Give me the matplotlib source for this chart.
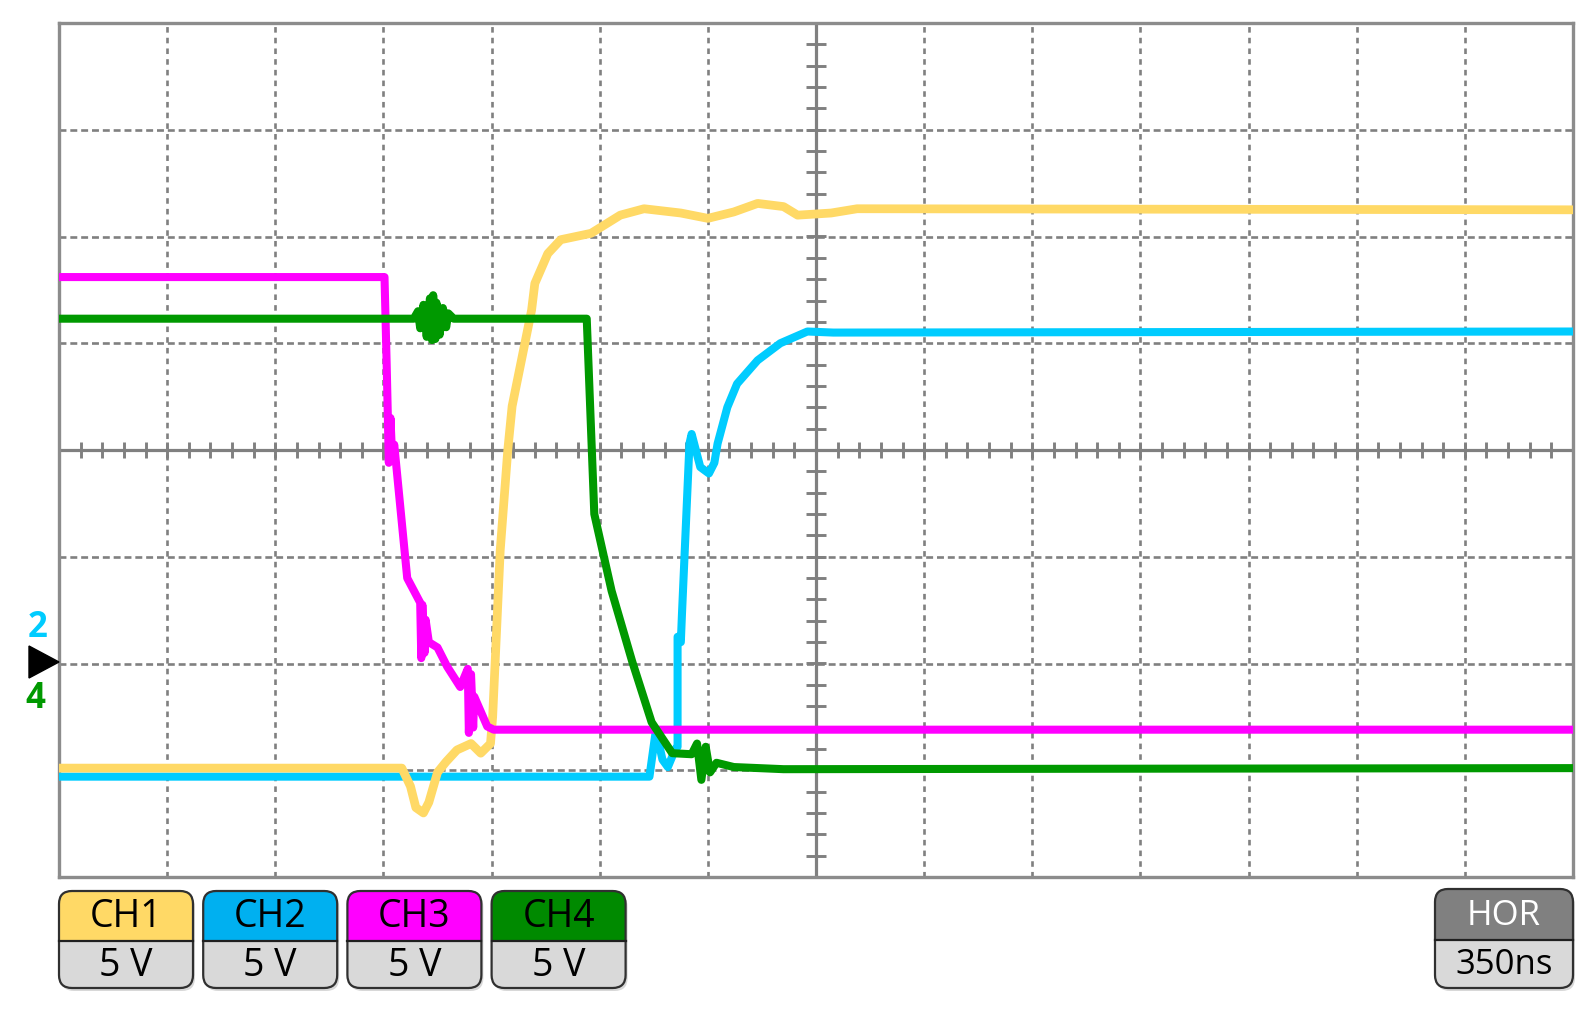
import matplotlib
matplotlib.use("Agg")
import matplotlib.pyplot as plt
import numpy as np
from matplotlib.patches import FancyBboxPatch, Rectangle, Polygon

plt.rcParams['lines.scale_dashes'] = False
plt.rcParams['font.family'] = ['Open Sans', 'DejaVu Sans']

# ---------------- data (screen divisions: x = time/div, y = volts/div) -------------
ch1_t = [-7.0, -3.83, -3.75, -3.70, -3.63, -3.58, -3.50, -3.42, -3.32, -3.19, -3.10,
         -3.01, -2.99, -2.92, -2.85, -2.81, -2.63, -2.60, -2.48, -2.36, -2.08, -1.81,
         -1.59, -1.25, -1.00, -0.76, -0.54, -0.30, -0.17, 0.14, 0.38, 7.0]
ch1_v = [-2.98, -2.98, -3.15, -3.35, -3.40, -3.30, -3.02, -2.92, -2.81, -2.75, -2.84,
         -2.75, -2.50, -0.94, 0.00, 0.41, 1.31, 1.56, 1.84, 1.97, 2.03, 2.20,
         2.26, 2.22, 2.17, 2.23, 2.31, 2.28, 2.20, 2.22, 2.26, 2.25]

ch2_t = [-7.0, -1.54, -1.48, -1.42, -1.37, -1.30, -1.28, -1.28, -1.25, -1.24, -1.17,
         -1.15, -1.07, -0.99, -0.94, -0.91, -0.82, -0.73, -0.54, -0.33, -0.08, 0.16, 7.0]
ch2_v = [-3.06, -3.06, -2.62, -2.90, -2.97, -2.80, -2.78, -1.75, -1.80, -1.55, 0.06,
         0.15, -0.16, -0.22, -0.12, 0.06, 0.40, 0.62, 0.84, 1.00, 1.11, 1.10, 1.11]

ch3_t = [-7.0, -3.99, -3.97, -3.96, -3.95, -3.935, -3.92, -3.90, -3.78, -3.66, -3.65,
         -3.64, -3.62, -3.61, -3.58, -3.50, -3.41, -3.29, -3.22, -3.21, -3.19, -3.17,
         -3.16, -3.04, -2.98, 7.0]
ch3_v = [1.62, 1.62, 0.80, 0.35, -0.12, 0.30, -0.05, 0.05, -1.20, -1.43, -1.95,
         -1.45, -1.90, -1.59, -1.80, -1.85, -2.03, -2.22, -2.05, -2.65, -2.10, -2.60,
         -2.31, -2.59, -2.62, -2.62]

ch4_t = [-7.0, -3.72, -3.68, -3.66, -3.63, -3.60, -3.57, -3.55, -3.54, -3.52, -3.51,
         -3.48, -3.45, -3.42, -3.40, -3.35, -2.12, -2.05, -1.89, -1.70, -1.52, -1.33,
         -1.15, -1.10, -1.06, -1.02, -0.98, -0.92, -0.76, -0.30, 7.0]
ch4_v = [1.23, 1.23, 1.30, 1.14, 1.36, 1.06, 1.42, 1.03, 1.45, 1.04, 1.38,
         1.08, 1.33, 1.15, 1.28, 1.23, 1.23, -0.60, -1.32, -1.98, -2.55, -2.84,
         -2.85, -2.75, -3.09, -2.78, -3.02, -2.93, -2.97, -2.99, -2.98]

channels = ['CH1', 'CH2', 'CH3', 'CH4']
scales = ['5 V', '5 V', '5 V', '5 V']
timebase = '350ns'

# ---------------- figure ----------------
W, H = 1596, 1017
fig = plt.figure(figsize=(W / 100, H / 100), dpi=100)
L, R, T, B = 59, 1573, 23, 877
ax = fig.add_axes([L / W, 1 - B / H, (R - L) / W, (B - T) / H])
ax.set_xlim(-7, 7)
ax.set_ylim(-4, 4)
ax.set_xticks([]); ax.set_yticks([])
for s in ax.spines.values():
    s.set_color('#8c8c8c'); s.set_linewidth(2.4)

grid_c = '#808080'
for x in range(-6, 7):
    if x == 0:
        continue
    ax.axvline(x, color=grid_c, lw=1.9, dashes=(4.0, 3.7), zorder=1)
for y in range(-3, 4):
    if y == 0:
        continue
    ax.axhline(y, color=grid_c, lw=1.9, dashes=(5.0, 2.8), zorder=1)
ax.axvline(0, color=grid_c, lw=2.3, zorder=1)
ax.axhline(0, color=grid_c, lw=2.3, zorder=1)
for x in np.arange(-7, 7.001, 0.2):
    ax.plot([x, x], [-0.075, 0.075], color=grid_c, lw=2.1, zorder=1, solid_capstyle='butt')
for y in np.arange(-4, 4.001, 0.2):
    ax.plot([-0.092, 0.092], [y, y], color=grid_c, lw=2.1, zorder=1, solid_capstyle='butt')

lw = 5.8
ax.plot(ch2_t, ch2_v, color='#00ccff', lw=lw, zorder=3, solid_joinstyle='round')
ax.plot(ch1_t, ch1_v, color='#ffd966', lw=lw + 0.5, zorder=4, solid_joinstyle='round')
ax.plot(ch3_t, ch3_v, color='#ff00ff', lw=lw, zorder=5, solid_joinstyle='round')
ax.plot(ch4_t, ch4_v, color='#009900', lw=lw, zorder=6, solid_joinstyle='round')

# ---------------- overlay (pixel coordinates) ----------------
ov = fig.add_axes([0, 0, 1, 1], facecolor='none')
ov.set_xlim(0, W); ov.set_ylim(H, 0); ov.axis('off')

# trigger / reference markers
ov.add_patch(Polygon([[29, 646], [59, 662], [29, 678]], closed=True, color='black'))
ov.text(38, 628, '2', color='#00ccff', fontsize=25, fontweight='bold', ha='center', va='center')
ov.text(35, 699, '4', color='#009900', fontsize=25, fontweight='bold', ha='center', va='center')


def badge(x0, y0, w, h, top_color, top_text, bot_text, top_tc='black', fs=27):
    mid = y0 + h * 0.52
    sh = FancyBboxPatch((x0 + 2, y0 + 3), w, h, boxstyle='round,pad=0,rounding_size=13',
                        fc='#bfbfbf', ec='none', alpha=0.6)
    ov.add_patch(sh)
    base = FancyBboxPatch((x0, y0), w, h, boxstyle='round,pad=0,rounding_size=13',
                          fc='#d9d9d9', ec='none')
    ov.add_patch(base)
    top = Rectangle((x0, y0), w, mid - y0, fc=top_color, ec='none')
    ov.add_patch(top)
    top.set_clip_path(base)
    ov.plot([x0, x0 + w], [mid, mid], color='#202020', lw=1.6)
    border = FancyBboxPatch((x0, y0), w, h, boxstyle='round,pad=0,rounding_size=13',
                            fc='none', ec='#303030', lw=1.6)
    ov.add_patch(border)
    ov.text(x0 + w / 2, (y0 + mid) / 2 + 1, top_text, color=top_tc, fontsize=fs,
            ha='center', va='center')
    ov.text(x0 + w / 2, (mid + y0 + h) / 2 + 1, bot_text, color='black', fontsize=fs,
            ha='center', va='center')


badge_colors = ['#ffd966', '#00b0f0', '#ff00ff', '#008a00']
for i, (c, s) in enumerate(zip(channels, scales)):
    badge(59 + i * 144.2, 891, 134, 97, badge_colors[i], c, s)
badge(1435, 889, 138, 99, '#808080', 'HOR', timebase, top_tc='white', fs=25)

fig.savefig('out.png', dpi=100)
